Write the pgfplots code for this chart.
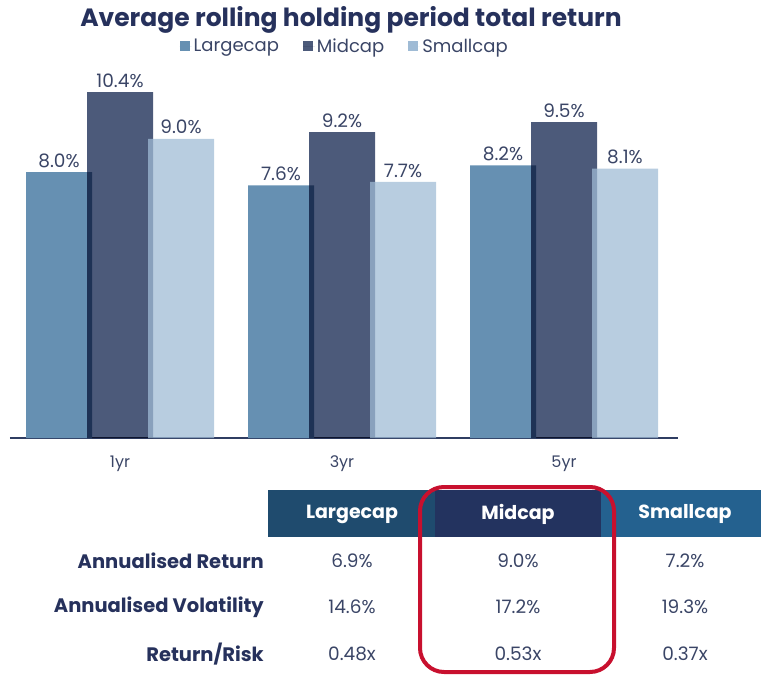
\documentclass[border=0pt]{standalone}
\usepackage{pgfplots}
\pgfplotsset{compat=1.18}
\usepackage{fontspec}
\setmainfont{Poppins}
\definecolor{cLarge}{HTML}{6690B2}
\definecolor{cMid}{HTML}{4C5A7A}
\definecolor{cSmall}{HTML}{9FBBD5}
\definecolor{navy}{HTML}{26315C}
\definecolor{txt}{HTML}{3A4566}
\definecolor{axisc}{HTML}{2F3D62}
\definecolor{hLarge}{HTML}{1F4B6E}
\definecolor{hMid}{HTML}{23335F}
\definecolor{hSmall}{HTML}{24618F}
\definecolor{redc}{HTML}{C8102E}
\pgfplotstableread{
x large mid small
0 8.0 10.4 9.0
1 7.6 9.2 7.7
2 8.2 9.5 8.1
}\datatable
\begin{document}
\begin{tikzpicture}[x=1pt,y=1pt]
\path[use as bounding box] (0,0) rectangle (761,-675);
\begin{axis}[
  at={(10pt,-438pt)}, anchor=south west,
  scale only axis, width=668pt, height=399pt,
  xmin=-0.4955, xmax=2.5135, ymin=0, ymax=12,
  axis y line=none, axis x line*=bottom,
  x axis line style={draw=axisc, line width=1.4pt, -},
  xtick=data, xticklabels={1yr,3yr,5yr},
  major tick length=0pt,
  x tick label style={font=\fontsize{16}{19}\selectfont, text=txt, yshift=-14pt},
  ybar, bar width=66pt,
  nodes near coords={\pgfmathprintnumber[fixed,fixed zerofill,precision=1,assume math mode=true]{\pgfplotspointmeta}\%},
  every node near coord/.append style={font=\fontsize{18.5}{21}\selectfont, text=txt, fill opacity=1, text opacity=1, yshift=1pt},
  legend style={at={(axis description cs:0.501,0.982)}, anchor=center, draw=none, fill=none,
    legend columns=-1, font=\fontsize{18}{21}\selectfont, text=txt,
    /tikz/every even column/.append style={column sep=22pt}},
  legend image code/.code={\fill[#1, fill opacity=1] (0pt,-4.5pt) rectangle (10pt,5.5pt); \path (0pt,0pt) -- (12pt,0pt);},
  clip=false,
]
\addplot[draw=none, fill=cLarge, bar shift=-61pt] table[x=x,y=large]{\datatable};
\addlegendentry{Largecap}
\addplot[draw=none, fill=cMid, bar shift=0pt, blend mode=multiply] table[x=x,y=mid]{\datatable};
\addlegendentry{Midcap}
\addplot[draw=none, fill=cSmall, fill opacity=0.74, bar shift=61pt] table[x=x,y=small]{\datatable};
\addlegendentry{Smallcap}
\end{axis}
% title
\node[font=\fontsize{25}{29}\selectfont\bfseries, text=navy] at (351,-20) {Average rolling holding period total return};
% table header
\fill[hLarge] (268,-490) rectangle (435,-537);
\fill[hMid] (435,-490) rectangle (601,-537);
\fill[hSmall] (601,-490) rectangle (761,-537);
\begin{scope}[every node/.style={font=\fontsize{19}{22}\selectfont\bfseries, text=white}]
\node at (352,-514) {Largecap};
\node at (518,-514) {Midcap};
\node at (685,-514) {Smallcap};
\end{scope}
\begin{scope}[every node/.style={font=\fontsize{19.5}{23}\selectfont\bfseries, text=navy, anchor=east, inner sep=0pt}]
\node at (264,-561) {Annualised Return};
\node at (264,-607) {Annualised Volatility};
\node at (264,-654) {Return/Risk};
\end{scope}
\begin{scope}[every node/.style={font=\fontsize{18.5}{22}\selectfont, text=txt}]
\node at (352,-561) {6.9\%}; \node at (518,-561) {9.0\%}; \node at (685,-561) {7.2\%};
\node at (352,-607) {14.6\%}; \node at (518,-607) {17.2\%}; \node at (685,-607) {19.3\%};
\node at (352,-654) {0.48x}; \node at (518,-654) {0.53x}; \node at (685,-654) {0.37x};
\end{scope}
\draw[redc, line width=4pt, rounded corners=24pt] (420,-487) rectangle (614,-672);
\end{tikzpicture}
\end{document}
